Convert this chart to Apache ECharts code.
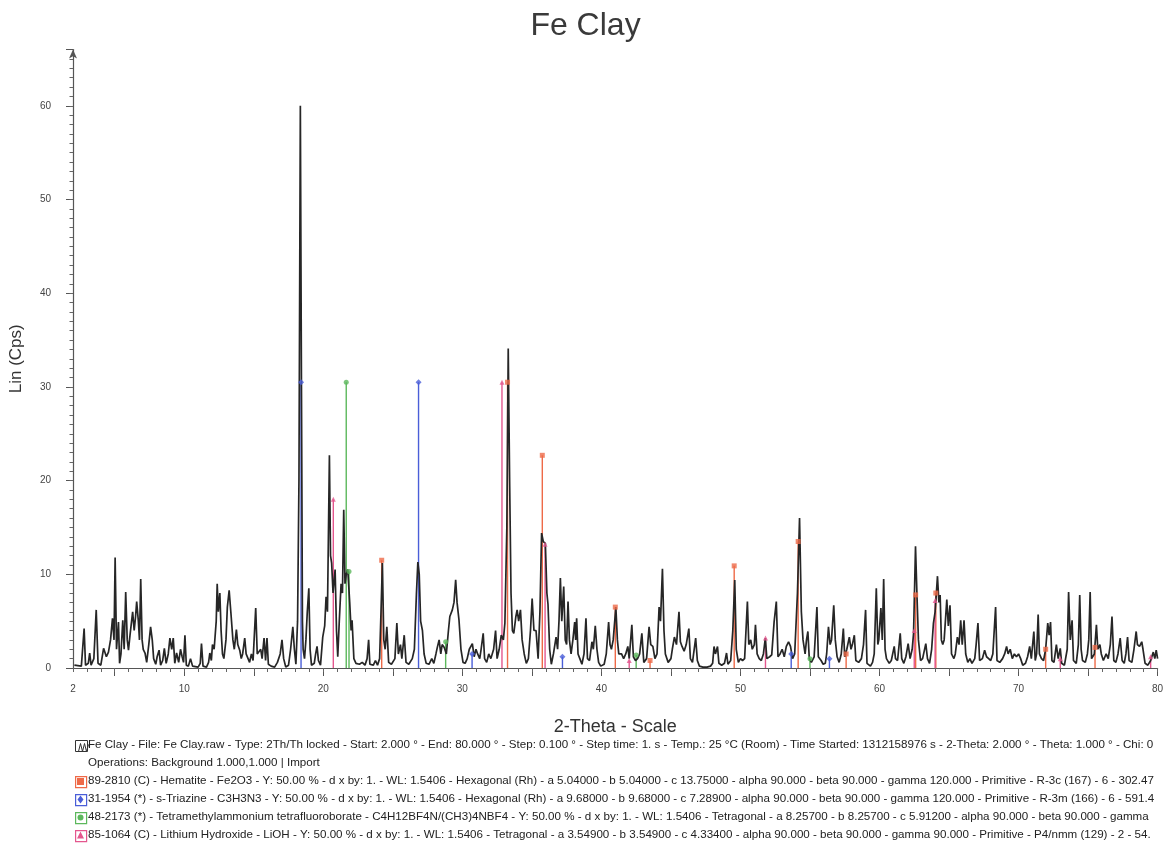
<!DOCTYPE html>
<html lang="en">
<head>
    <meta charset="utf-8">
    <title>Fe Clay</title>
    <script src="https://cdn.jsdelivr.net/npm/echarts@6/dist/echarts.min.js"></script>
    <style>
        html, body { margin: 0; padding: 0; background: #fff; }
        #main { width: 1171px; height: 843px; }
    </style>
</head>
<body>
<div id="main"></div>
<script>
    // measured pattern: [2-theta, Lin (Cps)]
    var trace = [
        [2.1,0.3],[2.6,0.2],[2.8,4.2],[2.9,0.3],[3.1,0.5],[3.2,1.6],[3.3,0.3],[3.5,1.0],[3.67,6.2],[3.8,0.5],
        [4.0,0.3],[4.2,2.1],[4.4,1.2],[4.55,1.7],[4.7,3.0],[4.84,5.3],[4.95,3.0],[5.03,11.8],[5.13,2.0],[5.2,3.5],
        [5.27,4.9],[5.35,0.5],[5.45,1.5],[5.58,5.1],[5.68,2.0],[5.79,8.1],[5.9,3.0],[5.99,1.9],[6.1,3.5],[6.29,6.0],
        [6.4,4.0],[6.5,5.5],[6.58,7.1],[6.7,5.0],[6.78,3.0],[6.87,9.5],[6.97,3.0],[7.05,2.0],[7.18,1.6],[7.3,0.6],
        [7.45,2.5],[7.58,4.4],[7.7,3.0],[7.8,1.0],[7.95,0.4],[8.05,1.2],[8.19,1.9],[8.3,0.3],[8.45,0.8],[8.57,2.1],
        [8.7,0.5],[8.85,1.5],[8.97,3.2],[9.1,2.0],[9.21,3.2],[9.32,0.5],[9.45,1.6],[9.6,0.6],[9.73,2.0],[9.85,1.2],
        [9.95,0.6],[10.05,3.5],[10.15,0.3],[10.3,0.2],[10.45,1.0],[10.6,0.2],[11.0,0.1],[11.15,0.5],[11.24,2.6],[11.35,0.2],
        [11.6,0.1],[11.75,0.6],[11.84,1.6],[11.95,0.8],[12.03,2.5],[12.15,2.0],[12.3,5.0],[12.37,9.0],[12.45,6.0],[12.56,8.0],
        [12.65,4.0],[12.75,1.5],[12.85,1.0],[13.0,3.0],[13.1,6.5],[13.23,8.3],[13.35,6.0],[13.5,3.0],[13.6,2.0],[13.75,4.1],
        [13.85,2.5],[13.99,1.9],[14.1,1.0],[14.2,1.5],[14.35,3.2],[14.45,1.5],[14.59,1.6],[14.7,0.6],[14.83,1.5],[14.95,0.8],
        [15.14,6.4],[15.25,1.5],[15.38,1.3],[15.5,2.0],[15.6,1.0],[15.74,3.2],[15.85,0.8],[15.95,3.2],[16.05,0.4],[16.25,0.2],
        [16.5,0.1],[16.7,0.6],[16.9,1.5],[17.03,3.0],[17.15,1.0],[17.3,0.1],[17.5,0.3],[17.65,2.0],[17.81,4.4],[17.92,2.0],
        [18.03,0.4],[18.15,5.0],[18.25,20.0],[18.35,60.0],[18.43,30.0],[18.5,5.0],[18.55,2.0],[18.65,1.0],[18.75,3.0],[18.85,6.0],
        [18.96,8.5],[19.05,2.0],[19.15,0.3],[19.35,0.5],[19.45,1.5],[19.55,2.3],[19.65,0.8],[19.8,0.3],[19.96,3.3],[20.1,4.5],
        [20.2,7.6],[20.3,6.0],[20.44,22.7],[20.52,12.0],[20.6,11.2],[20.7,8.0],[20.85,10.5],[20.95,4.0],[21.04,1.2],[21.15,5.0],
        [21.28,9.0],[21.38,8.0],[21.47,16.9],[21.56,9.0],[21.65,10.0],[21.76,10.5],[21.9,7.0],[22.0,4.0],[22.07,5.1],[22.2,1.0],
        [22.35,0.5],[22.6,0.4],[22.8,0.6],[23.0,0.3],[23.15,1.0],[23.26,3.0],[23.35,0.4],[23.6,0.3],[23.75,0.8],[23.9,0.3],
        [24.05,1.0],[24.15,6.0],[24.25,11.2],[24.35,3.0],[24.45,2.0],[24.57,4.4],[24.7,0.6],[24.9,0.4],[25.15,1.0],[25.29,4.8],
        [25.4,1.5],[25.55,2.5],[25.65,1.0],[25.82,3.5],[25.95,0.6],[26.15,0.4],[26.4,1.0],[26.55,2.0],[26.7,8.0],[26.8,11.3],
        [26.9,10.0],[27.0,5.0],[27.13,4.0],[27.25,1.5],[27.4,0.5],[27.6,0.4],[27.8,1.0],[27.95,0.5],[28.1,1.5],[28.2,2.2],
        [28.33,3.0],[28.45,1.5],[28.55,2.5],[28.7,2.2],[28.85,1.5],[29.0,4.0],[29.1,5.5],[29.28,6.2],[29.4,7.0],[29.52,9.4],
        [29.62,7.0],[29.76,5.1],[29.9,2.0],[30.05,0.6],[30.2,0.5],[30.35,1.0],[30.5,2.0],[30.72,2.6],[30.85,1.2],[30.98,2.0],
        [31.1,1.5],[31.25,1.0],[31.35,2.0],[31.5,3.7],[31.6,1.0],[31.75,0.6],[31.9,1.5],[32.05,1.0],[32.25,2.0],[32.39,4.0],
        [32.5,1.0],[32.65,2.0],[32.8,3.5],[32.95,3.0],[33.06,4.8],[33.2,15.0],[33.3,34.1],[33.4,20.0],[33.5,8.0],[33.6,4.0],
        [33.7,3.7],[33.85,5.5],[33.94,6.2],[34.05,5.0],[34.18,6.2],[34.3,3.0],[34.45,1.5],[34.6,0.5],[34.75,1.0],[34.9,4.0],
        [35.02,7.4],[35.15,4.0],[35.3,4.0],[35.45,1.0],[35.58,6.0],[35.7,14.4],[35.82,13.5],[35.97,13.3],[36.08,8.0],[36.16,6.8],
        [36.28,2.0],[36.4,0.4],[36.55,1.5],[36.74,3.3],[36.85,2.0],[36.95,5.0],[37.05,9.6],[37.15,5.0],[37.29,8.7],[37.4,3.0],
        [37.5,2.5],[37.6,7.1],[37.7,3.0],[37.82,1.5],[37.95,3.0],[38.08,4.9],[38.15,3.0],[38.22,5.3],[38.32,1.5],[38.45,1.0],
        [38.6,0.4],[38.75,1.5],[38.89,5.3],[39.0,1.0],[39.15,0.8],[39.32,2.8],[39.42,2.0],[39.56,4.5],[39.68,2.0],[39.8,0.6],
        [39.95,0.2],[40.2,0.4],[40.35,1.5],[40.52,4.9],[40.62,2.5],[40.72,2.0],[40.85,3.0],[41.04,6.5],[41.15,3.0],[41.25,1.5],
        [41.45,1.5],[41.6,1.0],[41.75,1.5],[41.9,2.3],[42.0,1.0],[42.19,4.6],[42.3,1.2],[42.45,0.8],[42.6,1.0],[42.75,1.5],
        [42.91,3.7],[43.05,0.6],[43.25,1.0],[43.43,4.4],[43.55,2.5],[43.7,2.3],[43.85,1.0],[44.0,1.5],[44.15,6.5],[44.25,5.0],
        [44.39,10.6],[44.5,4.0],[44.6,1.5],[44.8,0.6],[45.0,1.0],[45.1,2.0],[45.25,3.3],[45.4,2.5],[45.58,6.0],[45.68,2.8],
        [45.8,2.3],[45.95,1.8],[46.1,2.5],[46.29,4.2],[46.4,1.0],[46.55,0.6],[46.78,3.2],[46.9,0.8],[47.05,0.2],[47.3,0.1],
        [47.6,0.1],[47.85,0.2],[48.0,0.5],[48.1,2.3],[48.2,1.5],[48.35,2.3],[48.45,0.5],[48.65,0.3],[48.85,0.5],[49.0,1.6],
        [49.1,0.4],[49.3,0.8],[49.45,4.0],[49.59,9.4],[49.7,2.0],[49.85,0.6],[50.0,1.0],[50.15,0.8],[50.3,1.0],[50.5,7.1],
        [50.6,2.5],[50.74,3.0],[50.85,2.0],[51.0,2.5],[51.08,4.6],[51.2,1.5],[51.35,1.0],[51.5,0.8],[51.65,1.5],[51.79,3.2],
        [51.9,1.0],[52.1,1.2],[52.25,1.4],[52.42,4.9],[52.58,7.1],[52.7,1.2],[52.85,1.5],[53.0,2.0],[53.15,1.2],[53.3,2.3],
        [53.46,2.8],[53.6,2.3],[53.75,1.0],[53.9,1.5],[54.1,8.0],[54.25,16.0],[54.38,6.0],[54.5,3.0],[54.65,1.5],[54.75,3.0],
        [54.85,3.9],[54.95,1.0],[55.1,0.6],[55.3,1.2],[55.5,6.5],[55.6,1.2],[55.8,0.8],[55.95,0.4],[56.1,0.5],[56.2,1.5],
        [56.33,4.4],[56.45,2.5],[56.55,3.0],[56.71,6.7],[56.82,3.0],[56.95,1.2],[57.1,0.6],[57.25,1.5],[57.4,4.2],[57.5,1.2],
        [57.65,2.0],[57.83,3.3],[57.95,2.0],[58.05,2.5],[58.19,3.5],[58.3,0.8],[58.5,0.6],[58.7,1.0],[58.85,2.5],[59.0,6.2],
        [59.1,0.5],[59.35,0.2],[59.5,0.6],[59.62,1.5],[59.77,8.5],[59.88,2.5],[59.95,3.0],[60.1,6.4],[60.2,3.0],[60.3,9.5],
        [60.4,2.0],[60.5,1.0],[60.7,0.5],[60.85,0.8],[61.06,2.3],[61.15,1.0],[61.3,0.8],[61.49,3.7],[61.6,1.0],[61.75,0.5],
        [61.9,1.2],[62.06,2.6],[62.2,1.0],[62.35,2.0],[62.45,3.7],[62.59,13.0],[62.7,7.5],[62.8,3.0],[62.95,0.8],[63.1,1.0],
        [63.33,2.6],[63.45,1.0],[63.6,0.5],[63.75,2.0],[63.88,4.8],[64.0,6.0],[64.17,9.8],[64.27,7.0],[64.36,7.8],[64.45,3.0],
        [64.55,2.5],[64.65,3.0],[64.84,7.3],[64.95,4.5],[65.07,6.7],[65.18,1.5],[65.35,1.0],[65.45,1.5],[65.6,3.3],[65.72,2.5],
        [65.84,5.1],[65.95,2.5],[66.08,5.1],[66.2,1.5],[66.35,0.6],[66.5,1.0],[66.65,0.5],[66.85,1.0],[66.95,2.5],[67.08,4.8],
        [67.2,0.8],[67.4,1.0],[67.56,1.9],[67.7,1.2],[67.85,1.0],[68.0,0.8],[68.15,1.5],[68.35,6.5],[68.45,0.8],[68.65,0.6],
        [68.85,1.0],[69.0,1.5],[69.14,2.3],[69.25,1.5],[69.4,2.0],[69.55,1.0],[69.7,1.5],[69.85,1.2],[70.0,1.5],[70.15,1.0],
        [70.3,0.3],[70.5,0.5],[70.65,1.2],[70.8,2.3],[70.92,1.0],[71.1,3.9],[71.2,0.8],[71.3,1.5],[71.41,5.7],[71.5,1.5],
        [71.65,1.0],[71.8,0.8],[71.95,2.0],[72.1,4.8],[72.2,3.5],[72.3,4.9],[72.4,0.8],[72.55,0.6],[72.72,2.5],[72.85,1.0],
        [73.0,2.1],[73.1,0.5],[73.3,0.3],[73.5,2.0],[73.6,8.1],[73.72,3.0],[73.85,5.1],[73.95,0.8],[74.15,0.5],[74.3,2.5],
        [74.4,7.8],[74.5,2.0],[74.6,0.8],[74.8,0.6],[74.95,1.5],[75.05,3.0],[75.15,8.1],[75.25,1.0],[75.45,1.5],[75.6,4.6],
        [75.7,2.0],[75.85,2.5],[75.95,1.5],[76.1,0.8],[76.3,1.5],[76.45,1.0],[76.6,2.5],[76.72,5.5],[76.85,0.8],[77.0,0.6],
        [77.15,1.5],[77.31,3.2],[77.45,0.8],[77.6,0.5],[77.72,1.5],[77.84,3.3],[77.95,0.8],[78.15,0.6],[78.3,2.0],[78.46,3.9],
        [78.55,2.5],[78.7,2.3],[78.86,2.8],[78.95,2.0],[79.1,0.5],[79.3,0.3],[79.5,0.8],[79.69,1.7],[79.8,1.0],[79.9,1.9],
        [80.0,1.0]
    ];

    // reference sticks: [2-theta, height]
    var hematite = [[24.2,11.5],[33.25,30.5],[35.75,22.7],[41.0,6.5],[43.5,0.8],[49.55,10.9],[54.15,13.5],[57.6,1.5],[62.6,7.8],[64.05,8.0],[71.95,2.0],[75.5,2.2]];
    var triazine = [[18.4,30.5],[26.85,30.5],[30.7,1.5],[37.2,1.2],[53.65,1.5],[56.4,1.0]];
    var tmabf4 = [[21.65,30.5],[21.85,10.3],[28.8,2.8],[42.5,1.4],[55.0,1.0]];
    var lioh = [[20.72,18.0],[32.85,30.5],[35.95,13.2],[42.0,0.8],[51.8,3.2],[62.5,4.0],[64.0,7.2],[73.0,1.0],[79.5,1.2]];

    var xLabels = [2, 10, 20, 30, 40, 50, 60, 70, 80];
    var xMajorTicks = [5, 10, 15, 20, 25, 30, 35, 40, 45, 50, 55, 60, 65, 70, 75, 80];

    var legendLines = [
        'Fe Clay - File: Fe Clay.raw - Type: 2Th/Th locked - Start: 2.000 \u00b0 - End: 80.000 \u00b0 - Step: 0.100 \u00b0 - Step time: 1. s - Temp.: 25 \u00b0C (Room) - Time Started: 1312158976 s - 2-Theta: 2.000 \u00b0 - Theta: 1.000 \u00b0 - Chi: 0',
        'Operations: Background 1.000,1.000 | Import',
        '89-2810 (C) - Hematite - Fe2O3 - Y: 50.00 % - d x by: 1. - WL: 1.5406 - Hexagonal (Rh) - a 5.04000 - b 5.04000 - c 13.75000 - alpha 90.000 - beta 90.000 - gamma 120.000 - Primitive - R-3c (167) - 6 - 302.47',
        '31-1954 (*) - s-Triazine - C3H3N3 - Y: 50.00 % - d x by: 1. - WL: 1.5406 - Hexagonal (Rh) - a 9.68000 - b 9.68000 - c 7.28900 - alpha 90.000 - beta 90.000 - gamma 120.000 - Primitive - R-3m (166) - 6 - 591.4',
        '48-2173 (*) - Tetramethylammonium tetrafluoroborate - C4H12BF4N/(CH3)4NBF4 - Y: 50.00 % - d x by: 1. - WL: 1.5406 - Tetragonal - a 8.25700 - b 8.25700 - c 5.91200 - alpha 90.000 - beta 90.000 - gamma',
        '85-1064 (C) - Lithium Hydroxide - LiOH - Y: 50.00 % - d x by: 1. - WL: 1.5406 - Tetragonal - a 3.54900 - b 3.54900 - c 4.33400 - alpha 90.000 - beta 90.000 - gamma 90.000 - Primitive - P4/nmm (129) - 2 - 54.'
    ];

    var FONT = '"Liberation Sans", Arial, sans-serif';
    var phases = [
        { name: 'Hematite', data: hematite, color: '#ee6a48', symbol: 'rect', size: 5 },
        { name: 's-Triazine', data: triazine, color: '#4a5ed8', symbol: 'diamond', size: 6 },
        { name: 'TMA BF4', data: tmabf4, color: '#5cb85c', symbol: 'circle', size: 5 },
        { name: 'LiOH', data: lioh, color: '#e4578e', symbol: 'triangle', size: 5 }
    ];

    var chart = echarts.init(document.getElementById('main'), null, { renderer: 'canvas' });

    var series = [];
    phases.forEach(function (p) {
        series.push({
            name: p.name,
            type: 'custom',
            data: p.data,
            z: 1,
            renderItem: function (params, api) {
                var top = api.coord([api.value(0), api.value(1)]);
                var bot = api.coord([api.value(0), 0]);
                return {
                    type: 'line',
                    shape: { x1: bot[0], y1: bot[1], x2: top[0], y2: top[1] },
                    style: { stroke: p.color, lineWidth: 1.4 }
                };
            },
            silent: true
        });
    });
    series.push({
        name: 'Fe Clay',
        type: 'line',
        data: trace,
        showSymbol: false,
        z: 3,
        lineStyle: { color: '#262626', width: 1.7 },
        silent: true
    });
    phases.forEach(function (p) {
        series.push({
            name: p.name + ' marks',
            type: 'scatter',
            data: p.data,
            symbol: p.symbol,
            symbolSize: p.size,
            z: 4,
            itemStyle: { color: p.color },
            silent: true
        });
    });

    // legend block under the axis
    var graphics = [];
    var lineY = [746, 764, 782, 800, 818, 836];
    legendLines.forEach(function (t, i) {
        graphics.push({
            type: 'text', left: 88, top: lineY[i] - 7,
            style: { text: t, font: '11.6px ' + FONT, fill: '#222' }
        });
    });
    // trace icon
    graphics.push({ type: 'rect', left: 75, top: lineY[0] - 6, shape: { width: 12, height: 11 }, style: { fill: '#fff', stroke: '#333', lineWidth: 1 } });
    graphics.push({ type: 'polyline', left: 76, top: lineY[0] - 5, shape: { points: [[0, 9], [2, 1], [4, 9], [6, 1], [8, 9], [10, 2]] }, style: { stroke: '#333', fill: null, lineWidth: 1 } });
    phases.forEach(function (p, i) {
        var y = lineY[i + 2];
        graphics.push({ type: 'rect', left: 75, top: y - 6, shape: { width: 11, height: 11 }, style: { fill: '#fff', stroke: p.color, lineWidth: 1.2 } });
        var sym = p.symbol;
        graphics.push({
            type: sym === 'circle' ? 'circle' : 'polygon',
            x: 80.5, y: y - 0.5,
            shape: sym === 'circle' ? { cx: 0, cy: 0, r: 3 } :
                sym === 'rect' ? { points: [[-3.5, -3.5], [3.5, -3.5], [3.5, 3.5], [-3.5, 3.5]] } :
                sym === 'diamond' ? { points: [[0, -4], [3, 0], [0, 4], [-3, 0]] } :
                { points: [[0, -4], [3.5, 3], [-3.5, 3]] },
            style: { fill: p.color }
        });
    });

    var option = {
        animation: false,
        backgroundColor: '#fff',
        title: {
            text: 'Fe Clay', left: 'center', top: 5,
            textStyle: { fontFamily: FONT, fontSize: 32, fontWeight: 'normal', color: '#3a3a3a' }
        },
        grid: { left: 69.4, right: 13.4, top: 49.6, bottom: 175 },
        xAxis: [{
            type: 'value', min: 2, max: 80,
            name: '2-Theta - Scale', nameLocation: 'middle', nameGap: 50,
            nameTextStyle: { fontFamily: FONT, fontSize: 18, color: '#333' },
            axisLine: { lineStyle: { color: '#555', width: 1.2 } },
            axisTick: { customValues: xMajorTicks, length: 8, lineStyle: { color: '#555' } },
            axisLabel: { customValues: xLabels, margin: 16, fontFamily: FONT, fontSize: 10, color: '#444' },
            splitLine: { show: false }
        }, {
            type: 'value', min: 2, max: 80, interval: 1, position: 'bottom',
            axisLine: { show: false },
            axisTick: { length: 4, lineStyle: { color: '#666' } },
            axisLabel: { show: false },
            splitLine: { show: false }
        }],
        yAxis: [{
            type: 'value', min: 0, max: 66, interval: 10,
            name: 'Lin (Cps)', nameLocation: 'middle', nameGap: 48, nameRotate: 90,
            nameTextStyle: { fontFamily: FONT, fontSize: 17, color: '#333' },
            axisLine: { show: true, symbol: ['none', 'arrow'], symbolSize: [6, 9], lineStyle: { color: '#555', width: 1.2 } },
            axisTick: { show: true, length: 7, lineStyle: { color: '#555' } },
            axisLabel: {
                margin: 22, fontFamily: FONT, fontSize: 10, color: '#444',
                formatter: function (v) { return v % 10 === 0 ? String(v) : ''; }
            },
            splitLine: { show: false }
        }, {
            type: 'value', min: 0, max: 66, position: 'left',
            axisLine: { show: false },
            axisTick: { show: true, length: 3.5, customValues: (function () { var a = []; for (var i = 1; i <= 65; i++) a.push(i); return a; })(), lineStyle: { color: '#666' } },
            axisLabel: { show: false },
            splitLine: { show: false }
        }],
        series: series,
        graphic: graphics
    };
    chart.setOption(option);
</script>
</body>
</html>
